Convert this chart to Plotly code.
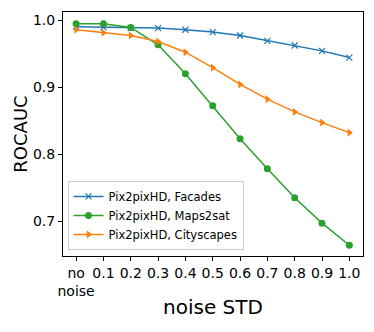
import plotly.graph_objects as go

# ---------------------------------------------------
# Data
# ---------------------------------------------------

noise_labels = ["no<br>noise", "0.1", "0.2", "0.3", "0.4", "0.5",
                "0.6", "0.7", "0.8", "0.9", "1.0"]

facades = [0.990, 0.989, 0.988, 0.988, 0.9855, 0.982,
           0.977, 0.969, 0.962, 0.954, 0.944]

maps2sat = [0.9945, 0.9945, 0.989, 0.963, 0.920, 0.872,
            0.823, 0.778, 0.735, 0.697, 0.664]

cityscapes = [0.9855, 0.981, 0.977, 0.968, 0.952, 0.929,
              0.904, 0.882, 0.863, 0.847, 0.832]

x_idx = list(range(len(noise_labels)))

# ---------------------------------------------------
# Figure
# ---------------------------------------------------

fig = go.Figure()

fig.add_trace(go.Scatter(
    x=x_idx, y=facades, name="Pix2pixHD, Facades",
    mode="lines+markers",
    line=dict(color="#1f77b4", width=1.5),
    marker=dict(symbol="x-thin", size=6, line=dict(color="#1f77b4", width=1.2))
))

fig.add_trace(go.Scatter(
    x=x_idx, y=maps2sat, name="Pix2pixHD, Maps2sat",
    mode="lines+markers",
    line=dict(color="#2ca02c", width=1.5),
    marker=dict(symbol="circle", size=7, color="#2ca02c")
))

fig.add_trace(go.Scatter(
    x=x_idx, y=cityscapes, name="Pix2pixHD, Cityscapes",
    mode="lines+markers",
    line=dict(color="#ff7f0e", width=1.5),
    marker=dict(symbol="triangle-right", size=7, color="#ff7f0e")
))

# page body has an 8px margin, so the figure is a bit smaller than the window
fig.update_layout(
    width=366,
    height=324,
    margin=dict(l=55, r=11, t=4, b=76),
    plot_bgcolor="white",
    paper_bgcolor="white",
    font=dict(family="DejaVu Sans", color="black"),
    showlegend=True,
    legend=dict(
        x=0.015, y=0.025, xanchor="left", yanchor="bottom",
        bgcolor="rgba(255,255,255,0.8)",
        bordercolor="#cccccc", borderwidth=1,
        font=dict(size=11.5),
        itemwidth=30,
        tracegroupgap=0,
    ),
)

fig.update_xaxes(
    range=[-0.48, 10.5],
    tickvals=x_idx,
    ticktext=noise_labels,
    tickangle=0,
    automargin=False,
    tickfont=dict(size=14),
    ticks="outside", ticklen=4, tickcolor="black",
    showgrid=False, zeroline=False,
    showline=True, linecolor="black", linewidth=1, mirror=True,
    title=dict(text="noise STD", font=dict(size=20), standoff=1),
)

fig.update_yaxes(
    range=[0.648, 1.012],
    tickvals=[0.7, 0.8, 0.9, 1.0],
    ticktext=["0.7", "0.8", "0.9", "1.0"],
    automargin=False,
    tickfont=dict(size=14),
    ticks="outside", ticklen=4, tickcolor="black",
    showgrid=False, zeroline=False,
    showline=True, linecolor="black", linewidth=1, mirror=True,
    title=dict(text="ROCAUC", font=dict(size=18), standoff=0),
)

fig.write_html("out.html")
